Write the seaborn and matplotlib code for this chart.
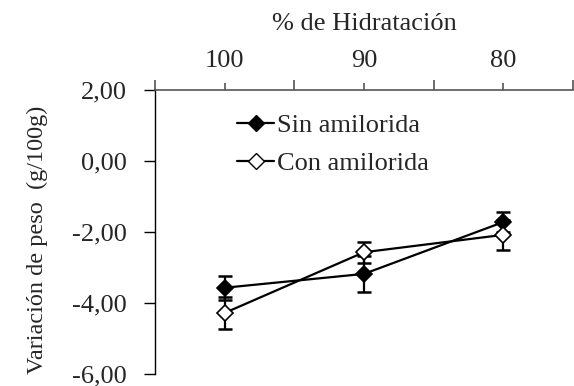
import numpy as np
import pandas as pd
import matplotlib
matplotlib.use("Agg")
import matplotlib.pyplot as plt
import seaborn as sns
from matplotlib.lines import Line2D
from matplotlib.ticker import FuncFormatter

categories = ["100", "90", "80"]
sin_vals = [-3.57, -3.18, -1.72]
sin_err = [0.34, 0.50, 0.29]
con_vals = [-4.28, -2.57, -2.08]
con_err = [0.46, 0.30, 0.43]
series_names = ["Sin amilorida", "Con amilorida"]

sns.set_theme(style="white")
plt.rcParams['font.family'] = ['Liberation Serif', 'DejaVu Serif']
FS = 19

df = pd.DataFrame({
    "x": list(range(len(categories))) * 2,
    "y": sin_vals + con_vals,
    "serie": [series_names[0]] * 3 + [series_names[1]] * 3,
})

fig = plt.figure(figsize=(5.74, 3.86), dpi=100)
ax = fig.add_axes([155/574, 1 - 374/386, 418/574, 284/386])

sns.lineplot(data=df, x="x", y="y", hue="serie", style="serie",
             palette=["black", "black"], markers=["D", "D"], dashes=False,
             linewidth=1.6, markersize=8, ax=ax, legend=False, zorder=3)
lines = ax.get_lines()
lines[0].set_markerfacecolor("black")
lines[0].set_markeredgecolor("black")
lines[1].set_markerfacecolor("white")
lines[1].set_markeredgecolor("black")
for ln in lines:
    ln.set_markeredgewidth(1.2)

xs = np.arange(len(categories))
ax.errorbar(xs, sin_vals, yerr=sin_err, fmt="none", ecolor="black",
            elinewidth=1.6, capsize=5, capthick=1.8, zorder=2)
ax.errorbar(xs, con_vals, yerr=con_err, fmt="none", ecolor="black",
            elinewidth=1.6, capsize=5, capthick=1.8, zorder=2)

ax.set_xlim(-0.5, 2.5)
ax.set_ylim(-6, 2)
ax.spines["bottom"].set_visible(False)
ax.spines["right"].set_visible(False)
ax.spines["left"].set_color("black")
ax.spines["top"].set_color("#555555")
ax.spines["left"].set_linewidth(1.0)
ax.spines["top"].set_linewidth(1.2)

ax.xaxis.tick_top()
ax.xaxis.set_label_position("top")
ax.set_xticks(xs)
ax.set_xticklabels(categories, fontsize=FS)
ax.set_xticks([-0.5, 0.5, 1.5, 2.5], minor=True)
ax.tick_params(axis="x", which="major", direction="out", length=5, width=1.2,
               color="#555555", pad=8)
ax.tick_params(axis="x", which="minor", direction="out", length=7, width=1.2,
               color="#555555")
ax.set_xlabel("% de Hidratación", fontsize=FS, labelpad=14)

ax.set_yticks([-6, -4, -2, 0, 2])
ax.yaxis.set_major_formatter(FuncFormatter(lambda v, p: f"{v:.2f}".replace(".", ",")))
ax.tick_params(axis="y", direction="out", length=8, width=1.0, color="black",
               labelsize=19, pad=12, left=True)
ax.set_ylabel("Variación de peso  (g/100g)", fontsize=17.5)
ax.yaxis.set_label_coords(-0.256, 0.472)
ax.grid(False)

handles = [
    Line2D([0], [0], color="black", lw=1.6, marker="D", markersize=8,
           markerfacecolor="black", markeredgecolor="black"),
    Line2D([0], [0], color="black", lw=1.6, marker="D", markersize=8,
           markerfacecolor="white", markeredgecolor="black"),
]
ax.legend(handles, series_names, loc="upper left", bbox_to_anchor=(0.172, 0.955),
          frameon=False, fontsize=FS, handlelength=1.4, handletextpad=0.1,
          labelspacing=0.55, borderaxespad=0)

fig.savefig("out.png", dpi=100)
